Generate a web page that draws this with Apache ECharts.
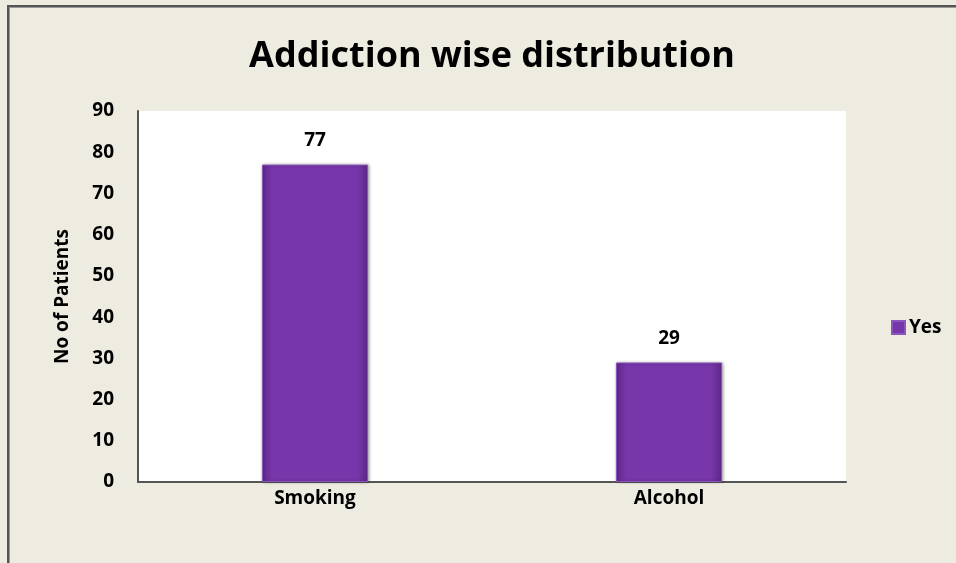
<!DOCTYPE html>
<html>
<head>
<meta charset="utf-8">
<script src="https://cdn.jsdelivr.net/npm/echarts@6/dist/echarts.min.js"></script>
<style>
  html, body { margin: 0; padding: 0; background: #EEEBE0; }
  #chart { width: 956px; height: 563px; }
</style>
</head>
<body>
<div id="chart"></div>
<script>
// Addiction wise distribution: patients per addiction type
const categories = ['Smoking', 'Alcohol'];
const yesValues = [77, 29];
const seriesName = 'Yes';

const chart = echarts.init(document.getElementById('chart'));

const barFill = new echarts.graphic.LinearGradient(0, 0, 1, 0, [
  { offset: 0, color: '#62298F' },
  { offset: 0.1, color: '#7736A9' },
  { offset: 0.9, color: '#7736A9' },
  { offset: 1, color: '#5C2787' }
]);

const FONT = 'Open Sans, Liberation Sans, sans-serif';

chart.setOption({
  backgroundColor: '#EEEBE0',
  textStyle: { fontFamily: FONT },
  graphic: [
    // frame edges along the top and left
    { type: 'rect', shape: { x: 7, y: 5, width: 960, height: 2 }, style: { fill: '#555' } },
    { type: 'rect', shape: { x: 7, y: 5, width: 2, height: 570 }, style: { fill: '#555' } },
    { type: 'rect', shape: { x: 9, y: 7, width: 960, height: 1 }, style: { fill: '#999' } },
    { type: 'rect', shape: { x: 9, y: 7, width: 1, height: 570 }, style: { fill: '#999' } }
  ],
  title: {
    text: 'Addiction wise distribution',
    left: 487,
    textAlign: 'center',
    top: 34,
    textStyle: { fontSize: 36, fontWeight: 'bold', color: '#000', fontFamily: FONT }
  },
  legend: {
    data: [seriesName],
    left: 886,
    top: 313,
    icon: 'rect',
    itemWidth: 13,
    itemHeight: 13,
    itemGap: 4,
    textStyle: { fontSize: 19, fontWeight: 'bold', color: '#000', padding: [0, 0, 0, -1] }
  },
  grid: {
    left: 138, right: 110, top: 111, bottom: 81, containLabel: false,
    show: true, backgroundColor: '#FFFFFF', borderWidth: 0
  },
  xAxis: {
    type: 'category',
    data: categories,
    axisLine: { lineStyle: { color: '#555', width: 2 } },
    axisTick: { show: false },
    axisLabel: { fontSize: 19, fontWeight: 'bold', color: '#000', margin: 7 }
  },
  yAxis: {
    type: 'value',
    min: 0,
    max: 90,
    interval: 10,
    name: 'No of Patients',
    nameLocation: 'middle',
    nameRotate: 90,
    nameGap: 66,
    nameTextStyle: { fontSize: 19, fontWeight: 'bold', color: '#000' },
    axisLine: { show: true, lineStyle: { color: '#555', width: 2 } },
    axisTick: { show: false },
    splitLine: { show: false },
    axisLabel: { fontSize: 19, fontWeight: 'bold', color: '#000', margin: 24 }
  },
  series: [{
    name: seriesName,
    type: 'bar',
    data: yesValues,
    barWidth: '30%',
    itemStyle: {
      color: barFill,
      borderColor: '#8A55BC',
      borderWidth: 1,
      shadowColor: 'rgba(0,0,0,0.3)',
      shadowBlur: 3,
      shadowOffsetX: 1
    },
    label: {
      show: true,
      position: 'top',
      distance: 14,
      fontSize: 19,
      fontWeight: 'bold',
      color: '#000'
    }
  }]
});
</script>
</body>
</html>
